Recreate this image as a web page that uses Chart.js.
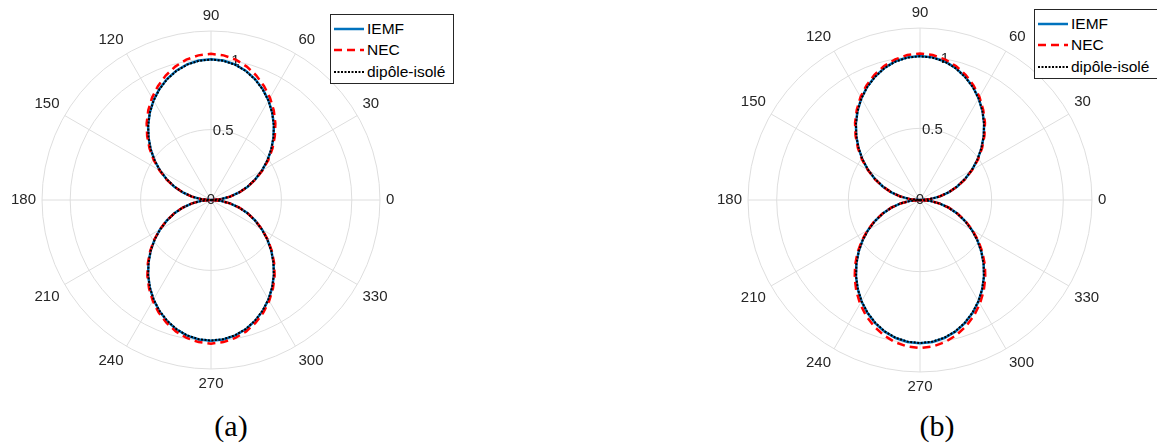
<!DOCTYPE html>
<html>
<head>
<meta charset="utf-8">
<script src="https://cdn.jsdelivr.net/npm/chart.js@4"></script>
<style>
  body { margin: 0; width: 1157px; height: 448px; overflow: hidden; background: #fff; position: relative; font-family: "Liberation Sans", Arial, sans-serif; }
  .box { position: absolute; }
  .legend { position: absolute; background: #fff; border: 1px solid #262626; font-size: 15.5px; color: #000; padding: 3px 0 0 0; box-sizing: border-box; }
  .legend div { height: 21.5px; display: flex; align-items: center; white-space: nowrap; }
  .legend svg { margin: 0 3px 0 3px; }
  .caption { position: absolute; font-family: "Liberation Serif", "DejaVu Serif", serif; font-size: 30px; color: #000; transform: translate(-50%, -50%); }
</style>
</head>
<body>
<div class="box" id="boxA" style="left:3px; top:0px; width:400px; height:400px;"><canvas id="chartA"></canvas></div>
<div class="box" id="boxB" style="left:709px; top:-3px; width:406px; height:406px;"><canvas id="chartB"></canvas></div>

<div class="legend" style="left:330px; top:14px; width:124px; height:70px;">
  <div><svg width="30" height="4"><line x1="0" y1="2" x2="30" y2="2" stroke="#0072BD" stroke-width="2.5"/></svg>IEMF</div>
  <div><svg width="30" height="4"><line x1="0" y1="2" x2="30" y2="2" stroke="#FF0000" stroke-width="2.5" stroke-dasharray="8,5"/></svg>NEC</div>
  <div><svg width="30" height="4"><line x1="0" y1="2" x2="30" y2="2" stroke="#000" stroke-width="2" stroke-dasharray="2,1.5"/></svg>dipôle-isolé</div>
</div>
<div class="legend" style="left:1034px; top:9px; width:126px; height:70px;">
  <div><svg width="30" height="4"><line x1="0" y1="2" x2="30" y2="2" stroke="#0072BD" stroke-width="2.5"/></svg>IEMF</div>
  <div><svg width="30" height="4"><line x1="0" y1="2" x2="30" y2="2" stroke="#FF0000" stroke-width="2.5" stroke-dasharray="8,5"/></svg>NEC</div>
  <div><svg width="30" height="4"><line x1="0" y1="2" x2="30" y2="2" stroke="#000" stroke-width="2" stroke-dasharray="2,1.5"/></svg>dipôle-isolé</div>
</div>

<div class="caption" style="left:231px; top:426px;">(a)</div>
<div class="caption" style="left:937px; top:426px;">(b)</div>

<script>
// angles in degrees, counter-clockwise from the right (MATLAB polarplot)
const angles = [0, 5, 10, 15, 20, 25, 30, 35, 40, 45, 50, 55, 60, 65, 70, 75, 80, 85, 90,
  95, 100, 105, 110, 115, 120, 125, 130, 135, 140, 145, 150, 155, 160, 165, 170, 175, 180,
  185, 190, 195, 200, 205, 210, 215, 220, 225, 230, 235, 240, 245, 250, 255, 260, 265, 270,
  275, 280, 285, 290, 295, 300, 305, 310, 315, 320, 325, 330, 335, 340, 345, 350, 355];

const rTicks = [0, 0.5, 1];
const rMax = 1.2;

// (a)
const iemfA = [0, 0.069, 0.137, 0.207, 0.277, 0.347, 0.418, 0.489, 0.559, 0.628, 0.695, 0.758, 0.817, 0.869, 0.914, 0.951, 0.978, 0.994, 1.000,
  0.994, 0.978, 0.951, 0.914, 0.869, 0.817, 0.758, 0.695, 0.628, 0.559, 0.489, 0.418, 0.347, 0.277, 0.207, 0.137, 0.069, 0,
  0.069, 0.137, 0.207, 0.277, 0.347, 0.418, 0.489, 0.559, 0.628, 0.695, 0.758, 0.817, 0.869, 0.914, 0.951, 0.978, 0.994, 1.000,
  0.994, 0.978, 0.951, 0.914, 0.869, 0.817, 0.758, 0.695, 0.628, 0.559, 0.489, 0.418, 0.347, 0.277, 0.207, 0.137, 0.069];
const necA = [0, 0.069, 0.138, 0.208, 0.279, 0.351, 0.423, 0.497, 0.570, 0.641, 0.711, 0.777, 0.838, 0.892, 0.941, 0.981, 1.012, 1.031, 1.038,
  1.031, 1.012, 0.981, 0.941, 0.892, 0.838, 0.777, 0.711, 0.641, 0.570, 0.497, 0.423, 0.351, 0.279, 0.208, 0.138, 0.069, 0,
  0.069, 0.137, 0.207, 0.278, 0.349, 0.420, 0.492, 0.564, 0.634, 0.703, 0.767, 0.827, 0.881, 0.927, 0.966, 0.995, 1.013, 1.020,
  1.013, 0.995, 0.966, 0.927, 0.881, 0.827, 0.767, 0.703, 0.634, 0.564, 0.492, 0.420, 0.349, 0.278, 0.207, 0.137, 0.069];
const dipoleA = [0, 0.068, 0.137, 0.206, 0.276, 0.346, 0.417, 0.488, 0.558, 0.627, 0.694, 0.757, 0.815, 0.867, 0.912, 0.949, 0.976, 0.992, 0.998,
  0.992, 0.976, 0.949, 0.912, 0.867, 0.815, 0.757, 0.694, 0.627, 0.558, 0.488, 0.417, 0.346, 0.276, 0.206, 0.137, 0.068, 0,
  0.068, 0.137, 0.206, 0.276, 0.346, 0.417, 0.488, 0.558, 0.627, 0.694, 0.757, 0.815, 0.867, 0.912, 0.949, 0.976, 0.992, 0.998,
  0.992, 0.976, 0.949, 0.912, 0.867, 0.815, 0.757, 0.694, 0.627, 0.558, 0.488, 0.417, 0.346, 0.276, 0.206, 0.137, 0.068];

// (b)
const iemfB = [0, 0.069, 0.137, 0.207, 0.277, 0.347, 0.418, 0.489, 0.559, 0.629, 0.696, 0.760, 0.819, 0.872, 0.917, 0.955, 0.983, 0.999, 1.005,
  0.999, 0.983, 0.955, 0.917, 0.872, 0.819, 0.760, 0.696, 0.629, 0.559, 0.489, 0.418, 0.347, 0.277, 0.207, 0.137, 0.069, 0,
  0.069, 0.137, 0.207, 0.277, 0.347, 0.418, 0.489, 0.559, 0.628, 0.695, 0.758, 0.817, 0.869, 0.914, 0.951, 0.978, 0.994, 1.000,
  0.994, 0.978, 0.951, 0.914, 0.869, 0.817, 0.758, 0.695, 0.628, 0.559, 0.489, 0.418, 0.347, 0.277, 0.207, 0.137, 0.069];
const necB = [0, 0.069, 0.138, 0.208, 0.278, 0.350, 0.421, 0.494, 0.566, 0.636, 0.705, 0.769, 0.830, 0.883, 0.930, 0.968, 0.997, 1.015, 1.023,
  1.015, 0.997, 0.968, 0.930, 0.883, 0.830, 0.769, 0.705, 0.636, 0.566, 0.494, 0.421, 0.350, 0.278, 0.208, 0.138, 0.069, 0,
  0.069, 0.138, 0.208, 0.279, 0.351, 0.423, 0.496, 0.569, 0.640, 0.709, 0.775, 0.836, 0.891, 0.938, 0.977, 1.007, 1.026, 1.034,
  1.026, 1.007, 0.977, 0.938, 0.891, 0.836, 0.775, 0.709, 0.640, 0.569, 0.496, 0.423, 0.351, 0.279, 0.208, 0.138, 0.069];
const dipoleB = [0, 0.068, 0.137, 0.206, 0.276, 0.346, 0.417, 0.488, 0.558, 0.628, 0.695, 0.759, 0.818, 0.870, 0.915, 0.953, 0.981, 0.997, 1.003,
  0.997, 0.981, 0.953, 0.915, 0.870, 0.818, 0.759, 0.695, 0.628, 0.558, 0.488, 0.417, 0.346, 0.276, 0.206, 0.137, 0.068, 0,
  0.068, 0.137, 0.206, 0.276, 0.346, 0.417, 0.488, 0.558, 0.627, 0.694, 0.757, 0.815, 0.867, 0.912, 0.949, 0.976, 0.992, 0.998,
  0.992, 0.976, 0.949, 0.912, 0.867, 0.815, 0.757, 0.694, 0.627, 0.558, 0.488, 0.417, 0.346, 0.276, 0.206, 0.137, 0.068];

const textColor = '#262626';
const gridColor = '#dedede';

// radar goes clockwise from its start angle, so feed it the angles in reverse (0, 355, 350, ...)
function clockwise(arr) {
  return [arr[0]].concat(arr.slice(1).reverse());
}

// r tick labels along the 80 degree spoke, under the curves
const rLabels = {
  id: 'rLabels',
  beforeDatasetsDraw(chart) {
    const scale = chart.scales.r;
    const idx = clockwise(angles).indexOf(80);
    const c = chart.ctx;
    c.save();
    c.fillStyle = textColor;
    c.font = '15px "Liberation Sans", Arial, sans-serif';
    c.textAlign = 'center';
    c.textBaseline = 'middle';
    rTicks.forEach(v => {
      const p = scale.getPointPositionForValue(idx, v);
      c.fillText(String(v), p.x, p.y);
    });
    c.restore();
  }
};

function makeChart(id, iemf, nec, dipole) {
  new Chart(document.getElementById(id), {
    type: 'radar',
    data: {
      labels: clockwise(angles).map(String),
      datasets: [
        { label: 'IEMF', data: clockwise(iemf), borderColor: '#0072BD', borderWidth: 2.5, order: 2 },
        { label: 'NEC', data: clockwise(nec), borderColor: '#FF0000', borderWidth: 2.5, borderDash: [8, 5], order: 1 },
        { label: 'dipôle-isolé', data: clockwise(dipole), borderColor: '#000000', borderWidth: 2, borderDash: [2, 1.5], order: 0 }
      ]
    },
    options: {
      responsive: true,
      maintainAspectRatio: false,
      animation: false,
      elements: {
        point: { radius: 0 },
        line: { fill: false, tension: 0 }
      },
      scales: {
        r: {
          min: 0,
          max: rMax,
          startAngle: 90,
          ticks: { display: false, stepSize: 0.5 },
          grid: { circular: true, color: gridColor, lineWidth: 1 },
          angleLines: {
            color: gridColor,
            lineWidth: (ctx) => ctx.index % 6 === 0 ? 1 : 0
          },
          pointLabels: {
            color: textColor,
            padding: 6,
            font: { size: 15, family: '"Liberation Sans", Arial, sans-serif' },
            callback: (label, index) => index % 6 === 0 ? label : ''
          }
        }
      },
      plugins: {
        legend: { display: false },
        tooltip: { enabled: false }
      }
    },
    plugins: [rLabels]
  });
}

makeChart('chartA', iemfA, necA, dipoleA);
makeChart('chartB', iemfB, necB, dipoleB);
</script>
</body>
</html>
